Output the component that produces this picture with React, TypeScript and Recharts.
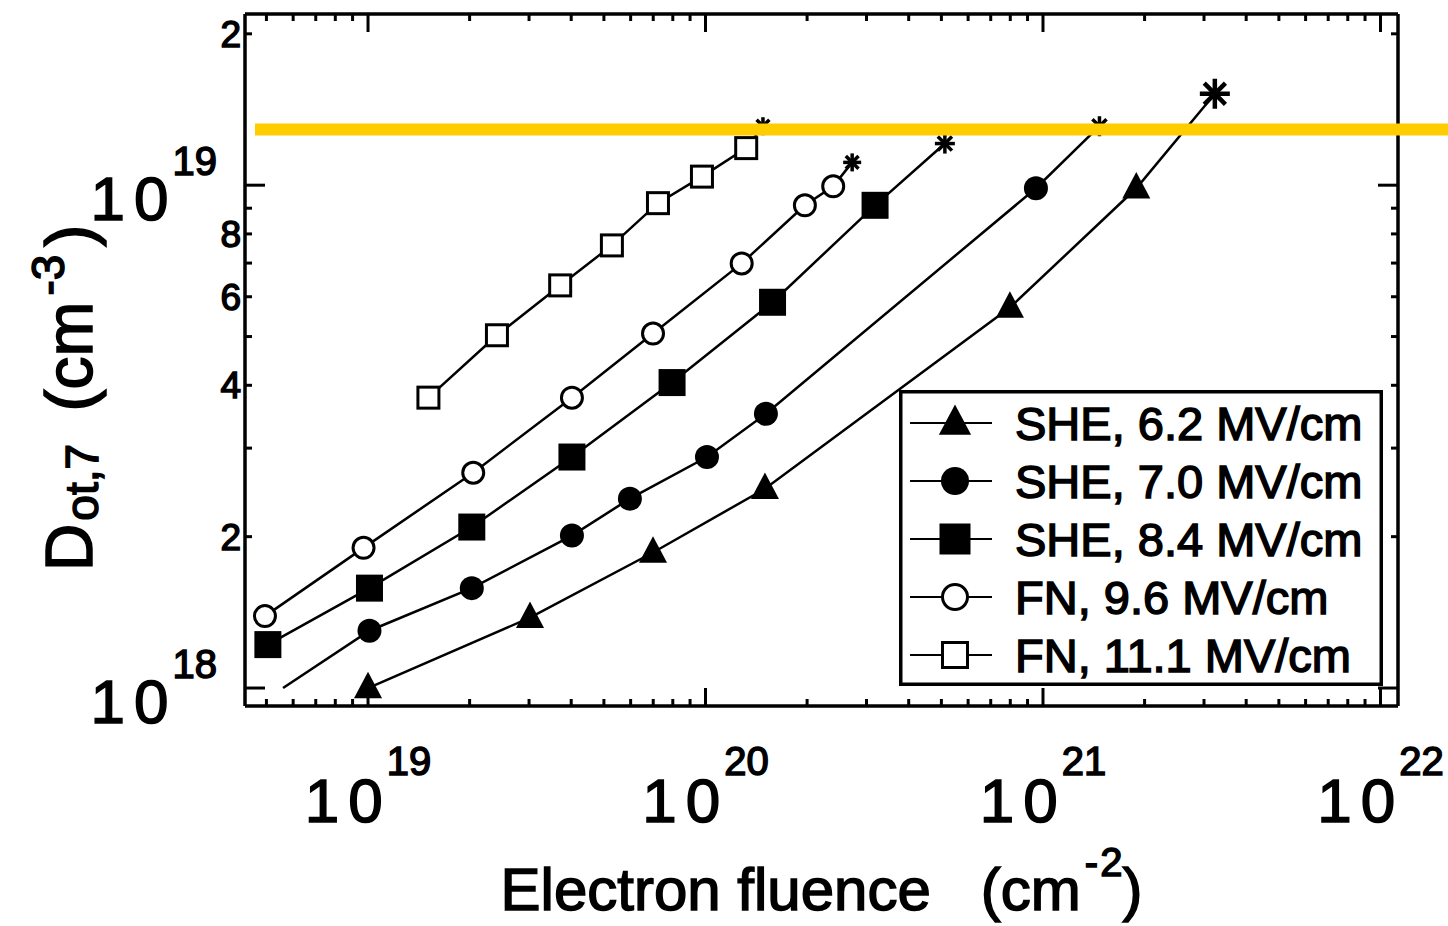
import React from "react";
import { ComposedChart, Line, XAxis, YAxis, ReferenceLine, Legend } from "recharts";

const FONT = '"Liberation Sans", Arial, Helvetica, sans-serif';

// axis extents
const X_DOMAIN: [number, number] = [4.32e18, 1.127e22];
const Y_DOMAIN: [number, number] = [9.21e17, 2.19e19];

const X_DECADES = [1e18, 1e19, 1e20, 1e21, 1e22];
const Y_DECADES = [1e17, 1e18, 1e19];
const MINOR_STEPS = [1, 2, 3, 4, 5, 6, 7, 8, 9];
const Y_MINOR_LABELS = [2, 4, 6, 8];

// highlighted level (yellow bar)
const LIMIT_LEVEL = 1.29e19;

// last point of every series is the breakdown point (asterisk)
const she62Fluence = [1.0e19, 3.02e19, 6.99e19, 1.5e20, 7.98e20, 1.89e21, 3.23e21];
const she62Dot = [1.0e18, 1.38e18, 1.86e18, 2.49e18, 5.71e18, 9.86e18, 1.52e19];

// first point sits on the bottom edge, line only (no symbol)
const she70Fluence = [5.6e18, 1.01e19, 2.03e19, 4.02e19, 5.97e19, 1.01e20, 1.51e20, 9.53e20, 1.47e21];
const she70Dot = [1.0e18, 1.3e18, 1.58e18, 2.01e18, 2.38e18, 2.88e18, 3.51e18, 9.86e18, 1.31e19];

const she84Fluence = [5.05e18, 1.01e19, 2.03e19, 4.02e19, 7.96e19, 1.58e20, 3.18e20, 5.12e20];
const she84Dot = [1.22e18, 1.58e18, 2.09e18, 2.88e18, 4.05e18, 5.85e18, 9.12e18, 1.21e19];

const fn96Fluence = [4.95e18, 9.7e18, 2.05e19, 4.02e19, 6.99e19, 1.28e20, 1.97e20, 2.39e20, 2.72e20];
const fn96Dot = [1.39e18, 1.9e18, 2.68e18, 3.78e18, 5.07e18, 6.99e18, 9.12e18, 9.95e18, 1.11e19];

const fn111Fluence = [1.51e19, 2.41e19, 3.71e19, 5.28e19, 7.23e19, 9.76e19, 1.32e20, 1.48e20];
const fn111Dot = [3.78e18, 5.03e18, 6.32e18, 7.59e18, 9.21e18, 1.04e19, 1.185e19, 1.31e19];

type Kind = "triangle" | "circle" | "square" | "openCircle" | "openSquare";

const SERIES: { name: string; xs: number[]; ys: number[]; kind: Kind; size: number; star: number; bareFirst?: boolean }[] = [
  { name: "SHE, 6.2 MV/cm", xs: she62Fluence, ys: she62Dot, kind: "triangle", size: 27, star: 15 },
  { name: "SHE, 7.0 MV/cm", xs: she70Fluence, ys: she70Dot, kind: "circle", size: 24, star: 10, bareFirst: true },
  { name: "SHE, 8.4 MV/cm", xs: she84Fluence, ys: she84Dot, kind: "square", size: 27, star: 10 },
  { name: "FN, 9.6 MV/cm", xs: fn96Fluence, ys: fn96Dot, kind: "openCircle", size: 24, star: 9 },
  { name: "FN, 11.1 MV/cm", xs: fn111Fluence, ys: fn111Dot, kind: "openSquare", size: 24, star: 9 },
];

const xTicks = X_DECADES.flatMap((d) => MINOR_STEPS.map((m) => m * d)).filter(
  (v) => v >= X_DOMAIN[0] * 0.999 && v <= X_DOMAIN[1]
);
const yTicks = Y_DECADES.flatMap((d) => MINOR_STEPS.map((m) => m * d)).filter(
  (v) => v >= Y_DOMAIN[0] && v <= Y_DOMAIN[1]
);

const isDecade = (v: number) => Math.abs(Math.log10(v) - Math.round(Math.log10(v))) < 1e-6;
const mantissa = (v: number) => Math.round(v / Math.pow(10, Math.floor(Math.log10(v) + 1e-9)));

const AXIS = { stroke: "#000", strokeWidth: 3.5 };
const TXT = { fontFamily: FONT, fill: "#000", stroke: "#000", strokeWidth: 1.5 };

function Marker({ kind, cx, cy, s }: { kind: Kind; cx: number; cy: number; s: number }) {
  switch (kind) {
    case "triangle":
      return (
        <polygon
          points={`${cx},${cy - s * 0.6} ${cx - s * 0.52},${cy + s * 0.38} ${cx + s * 0.52},${cy + s * 0.38}`}
          fill="#000"
        />
      );
    case "circle":
      return <circle cx={cx} cy={cy} r={s / 2} fill="#000" />;
    case "square":
      return <rect x={cx - s / 2} y={cy - s / 2} width={s} height={s} fill="#000" />;
    case "openCircle":
      return <circle cx={cx} cy={cy} r={s / 2 - 1.5} fill="#fff" stroke="#000" strokeWidth={3} />;
    default:
      return <rect x={cx - s / 2 + 1.5} y={cy - s / 2 + 1.5} width={s - 3} height={s - 3} fill="#fff" stroke="#000" strokeWidth={3} />;
  }
}

function Asterisk({ cx, cy, r }: { cx: number; cy: number; r: number }) {
  const arms = [0, 45, 90, 135].map((a) => {
    const t = (a * Math.PI) / 180;
    return (
      <line
        key={a}
        x1={cx - r * Math.cos(t)}
        y1={cy - r * Math.sin(t)}
        x2={cx + r * Math.cos(t)}
        y2={cy + r * Math.sin(t)}
        stroke="#000"
        strokeWidth={r > 12 ? 4.5 : 3.5}
      />
    );
  });
  return <g>{arms}</g>;
}

function BottomTick({ x, y, payload }: any) {
  const v = payload.value;
  const major = isDecade(v);
  return (
    <g>
      <line x1={x} x2={x} y1={y} y2={y - (major ? 18 : 7)} stroke="#000" strokeWidth={3} />
      {major && (
        <text x={x} y={y + 116} textAnchor="middle" {...TXT}>
          <tspan fontSize={62} letterSpacing={9}>10</tspan>
          <tspan fontSize={40} dx={-5} dy={-47}>{Math.round(Math.log10(v))}</tspan>
        </text>
      )}
    </g>
  );
}

function TopTick({ x, y, payload }: any) {
  const major = isDecade(payload.value);
  return <line x1={x} x2={x} y1={y} y2={y + (major ? 18 : 7)} stroke="#000" strokeWidth={3} />;
}

function LeftTick({ x, y, payload }: any) {
  const v = payload.value;
  const major = isDecade(v);
  const m = mantissa(v);
  return (
    <g>
      <line x1={x} x2={x + (major ? 20 : 7)} y1={y} y2={y} stroke="#000" strokeWidth={3} />
      {major && (
        <text x={x - 28} y={y + 35} textAnchor="end" {...TXT}>
          <tspan fontSize={62} letterSpacing={9}>10</tspan>
          <tspan fontSize={40} dx={-5} dy={-45}>{Math.round(Math.log10(v))}</tspan>
        </text>
      )}
      {!major && Y_MINOR_LABELS.includes(m) && (
        <text x={x - 4} y={y + 13} textAnchor="end" fontSize={37} {...TXT}>
          {m}
        </text>
      )}
    </g>
  );
}

function RightTick({ x, y, payload }: any) {
  const major = isDecade(payload.value);
  return <line x1={x} x2={x - (major ? 20 : 7)} y1={y} y2={y} stroke="#000" strokeWidth={3} />;
}

function XTitle({ viewBox }: any) {
  const cx = viewBox.x + viewBox.width / 2;
  return (
    <text x={cx} y={viewBox.y + 204} textAnchor="middle" fontSize={60} {...TXT}>
      Electron fluence
      <tspan dx={50}>(cm</tspan>
      <tspan fontSize={40} dx={4} dy={-34}>-</tspan>
      <tspan fontSize={40} dx={2}>2</tspan>
      <tspan dy={34}>)</tspan>
    </text>
  );
}

function YTitle() {
  const cx = 92;
  const cy = 398;
  return (
    <text x={cx} y={cy} textAnchor="middle" fontSize={66} transform={`rotate(-90 ${cx} ${cy})`} {...TXT}>
      D
      <tspan fontSize={46} dx={3} dy={6}>ot,7</tspan>
      <tspan dx={14} dy={-6}> (cm</tspan>
      <tspan fontSize={46} dx={6} dy={-28}>-3</tspan>
      <tspan dx={8} dy={28}>)</tspan>
    </text>
  );
}

function LegendBox() {
  return (
    <svg width={484} height={296} style={{ display: "block" }}>
      <rect x={1.75} y={1.75} width={480.5} height={292.5} fill="#fff" stroke="#000" strokeWidth={3.5} />
      {SERIES.map((s, i) => {
        const cy = 33 + i * 58;
        return (
          <g key={s.name}>
            <line x1={11} x2={93} y1={cy} y2={cy} stroke="#000" strokeWidth={2} />
            <Marker kind={s.kind} cx={56} cy={cy} s={s.size + 4} />
            <text x={116} y={cy + 17} fontSize={47} {...TXT}>
              {s.name}
            </text>
          </g>
        );
      })}
    </svg>
  );
}

function makeDot(s: (typeof SERIES)[number]) {
  return (p: any) => {
    const { cx, cy, index, payload } = p;
    if (payload.bare) return <g key={`dot-${index}`} />;
    if (payload.end) {
      return (
        <g key={`dot-${index}`}>
          <Asterisk cx={cx} cy={cy} r={s.star} />
        </g>
      );
    }
    return (
      <g key={`dot-${index}`}>
        <Marker kind={s.kind} cx={cx} cy={cy} s={s.size} />
      </g>
    );
  };
}

function YellowBar(p: any) {
  const left = Math.min(p.x1, p.x2);
  const right = Math.max(p.x1, p.x2);
  return <line x1={left + 10} x2={right + 60} y1={p.y1} y2={p.y2} stroke="#FFCC00" strokeWidth={12} />;
}

export default function App() {
  return (
    <div style={{ position: "absolute", left: 0, top: 0, width: 1448, height: 926, background: "#fff", overflow: "hidden" }}>
      <ComposedChart width={1448} height={926} margin={{ top: 13, right: 49, bottom: 0, left: 0 }}>
        <XAxis
          xAxisId="b"
          dataKey="x"
          type="number"
          scale="log"
          domain={X_DOMAIN}
          allowDataOverflow
          ticks={xTicks}
          interval={0}
          height={220}
          tickSize={0}
          tickMargin={0}
          tickLine={false}
          axisLine={AXIS}
          tick={(p: any) => <BottomTick {...p} />}
          label={{ content: (p: any) => <XTitle {...p} /> }}
        />
        <XAxis
          xAxisId="t"
          orientation="top"
          dataKey="x"
          type="number"
          scale="log"
          domain={X_DOMAIN}
          allowDataOverflow
          ticks={xTicks}
          interval={0}
          height={1}
          tickSize={0}
          tickMargin={0}
          tickLine={false}
          axisLine={AXIS}
          tick={(p: any) => <TopTick {...p} />}
        />
        <YAxis
          yAxisId="l"
          type="number"
          scale="log"
          domain={Y_DOMAIN}
          allowDataOverflow
          ticks={yTicks}
          interval={0}
          width={245}
          tickSize={0}
          tickMargin={0}
          tickLine={false}
          axisLine={AXIS}
          tick={(p: any) => <LeftTick {...p} />}
          label={{ content: () => <YTitle /> }}
        />
        <YAxis
          yAxisId="r"
          orientation="right"
          type="number"
          scale="log"
          domain={Y_DOMAIN}
          allowDataOverflow
          ticks={yTicks}
          interval={0}
          width={1}
          tickSize={0}
          tickMargin={0}
          tickLine={false}
          axisLine={AXIS}
          tick={(p: any) => <RightTick {...p} />}
        />
        {SERIES.map((s) => (
          <Line
            key={s.name}
            name={s.name}
            xAxisId="b"
            yAxisId="l"
            data={s.xs.map((x, i) => ({ x, y: s.ys[i], end: i === s.xs.length - 1, bare: !!s.bareFirst && i === 0 }))}
            dataKey="y"
            type="linear"
            stroke="#000"
            strokeWidth={2.5}
            dot={makeDot(s)}
            activeDot={false}
            isAnimationActive={false}
          />
        ))}
        <ReferenceLine xAxisId="b" yAxisId="l" y={LIMIT_LEVEL} ifOverflow="visible" zIndex={1500} shape={YellowBar} />
        <Legend
          layout="vertical"
          align="center"
          verticalAlign="middle"
          wrapperStyle={{ left: 899, top: 390, width: 484, height: 296, position: "absolute" }}
          content={() => <LegendBox />}
        />
      </ComposedChart>
    </div>
  );
}
